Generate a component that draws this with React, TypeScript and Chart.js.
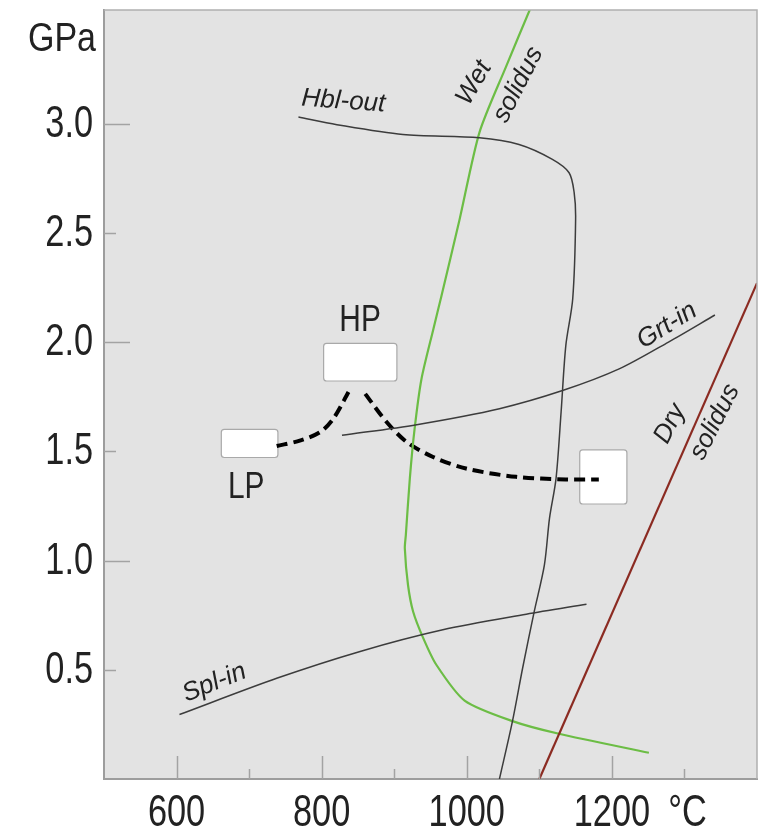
import React, { useEffect, useRef } from 'react';
import { Chart, registerables } from 'chart.js';

Chart.register(...registerables);

// ---------- data (T in °C, P in GPa) ----------
const wetSolidusT = [1088, 1054, 1017.5, 990, 965, 954, 937.5, 928, 921.5, 916, 914.6, 919, 926, 940, 958, 997, 1063, 1127, 1251];
const wetSolidusP = [3.53, 3.26, 2.96, 2.56, 2.21, 2.06, 1.83, 1.6, 1.375, 1.116, 1.056, 0.888, 0.767, 0.645, 0.523, 0.359, 0.265, 0.207, 0.12];

const hblOutT = [768, 821, 912, 1017.5, 1072, 1118, 1141, 1148, 1150, 1146, 1136.5, 1130, 1123, 1114, 1107, 1093, 1077, 1063, 1045];
const hblOutP = [3.03, 2.995, 2.95, 2.935, 2.904, 2.836, 2.775, 2.684, 2.562, 2.197, 1.984, 1.68, 1.375, 1.193, 0.98, 0.767, 0.508, 0.265, 0.0];

const grtInT = [828, 931, 1045, 1132, 1210, 1278, 1342];
const grtInP = [1.573, 1.622, 1.695, 1.778, 1.877, 2.0, 2.124];

const splInT = [604, 739, 853, 967, 1082, 1165];
const splInP = [0.295, 0.462, 0.584, 0.683, 0.754, 0.8];

const drySolidusT = [1100, 1400];
const drySolidusP = [0.0, 2.27];

const pathLpT = [738, 771, 798, 816, 837];
const pathLpP = [1.524, 1.55, 1.588, 1.649, 1.771];

const pathHpT = [860, 889.5, 917, 953.5, 999, 1068, 1136.5, 1182];
const pathHpP = [1.763, 1.634, 1.543, 1.474, 1.421, 1.383, 1.371, 1.371];

// sample boxes (P-T fields)
const boxTmin = [802, 661, 1155];
const boxTmax = [903, 739, 1220];
const boxPmin = [1.824, 1.474, 1.261];
const boxPmax = [1.996, 1.603, 1.509];

// axis labels
const xTickLabels: Record<number, string> = { 600: '600', 800: '800', 1000: '1000', 1200: '1200', 1300: '°C' };
const yTickLabels: Record<string, string> = { '0.5': '0.5', '1': '1.0', '1.5': '1.5', '2': '2.0', '2.5': '2.5', '3': '3.0' };
const yUnit = 'GPa';

// annotation texts
const annTexts = ['Hbl-out', 'Wet', 'solidus', 'Grt-in', 'Dry', 'solidus', 'Spl-in', 'HP', 'LP'];
const annT = [830, 1010, 1071, 1276, 1280, 1342, 652, 853, 696];
const annP = [3.102, 3.186, 3.178, 2.075, 1.626, 1.634, 0.44, 2.098, 1.33];

const FONT_SANS = "'Liberation Sans', Arial, sans-serif";
const NARROW = 0.8;

const annStyle = [
  { angle: 4, italic: true, size: 26 },
  { angle: -60, italic: true, size: 26 },
  { angle: -63, italic: true, size: 26 },
  { angle: -32, italic: true, size: 26 },
  { angle: -63, italic: true, size: 26 },
  { angle: -63, italic: true, size: 26 },
  { angle: -22, italic: true, size: 26 },
  { angle: 0, italic: false, size: 36 },
  { angle: 0, italic: false, size: 36 },
];

const mk = (T: number[], P: number[]) => T.map((t, i) => ({ x: t, y: P[i] }));

const ds = (T: number[], P: number[], color: string, width: number, tension: number, dash: number[] = []) => ({
  data: mk(T, P),
  showLine: true,
  borderColor: color,
  backgroundColor: color,
  borderWidth: width,
  pointRadius: 0,
  pointHoverRadius: 0,
  tension,
  borderDash: dash,
  borderCapStyle: 'butt' as const,
  fill: false,
});

const bgPlugin = {
  id: 'bg',
  beforeDraw(chart: any) {
    const { ctx, chartArea: a } = chart;
    ctx.save();
    ctx.fillStyle = '#e3e3e3';
    ctx.fillRect(a.left, a.top, a.right - a.left, a.bottom - a.top);
    ctx.restore();
  },
};

const boxesPlugin = {
  id: 'boxes',
  beforeDatasetsDraw(chart: any) {
    const { ctx, scales: { x, y } } = chart;
    ctx.save();
    for (let i = 0; i < boxTmin.length; i++) {
      const x0 = x.getPixelForValue(boxTmin[i]);
      const x1 = x.getPixelForValue(boxTmax[i]);
      const y0 = y.getPixelForValue(boxPmax[i]);
      const y1 = y.getPixelForValue(boxPmin[i]);
      ctx.beginPath();
      ctx.roundRect(x0 + 0.5, y0 + 0.5, x1 - x0, y1 - y0, 3);
      ctx.fillStyle = '#ffffff';
      ctx.fill();
      ctx.strokeStyle = '#a9a9a9';
      ctx.lineWidth = 1.2;
      ctx.stroke();
    }
    ctx.restore();
  },
};

const marksPlugin = {
  id: 'marks',
  afterDatasetsDraw(chart: any) {
    const { ctx, chartArea: a, scales: { x, y } } = chart;
    ctx.save();
    ctx.strokeStyle = '#a3a3a3';
    ctx.lineWidth = 1.5;
    x.ticks.forEach((t: any) => {
      const v = t.value;
      if (v <= 500 || v >= 1400) return;
      const len = v % 200 === 0 ? 23 : 10;
      const px = Math.round(x.getPixelForValue(v)) + 0.5;
      ctx.beginPath();
      ctx.moveTo(px, a.bottom);
      ctx.lineTo(px, a.bottom - len);
      ctx.stroke();
    });
    y.ticks.forEach((t: any) => {
      const v = t.value;
      if (v <= 0 || v > 3.4) return;
      const major = Math.abs(v - Math.round(v)) < 1e-6;
      const len = major ? 26 : 12;
      const py = Math.round(y.getPixelForValue(v)) + 0.5;
      ctx.beginPath();
      ctx.moveTo(a.left, py);
      ctx.lineTo(a.left + len, py);
      ctx.stroke();
    });
    ctx.strokeStyle = '#b0b0b0';
    ctx.lineWidth = 1.5;
    ctx.beginPath();
    ctx.moveTo(a.left, a.top);
    ctx.lineTo(a.right, a.top);
    ctx.lineTo(a.right, a.bottom);
    ctx.stroke();
    ctx.restore();
  },
};

// condensed tick labels, taken from the scales' own ticks
const tickLabelPlugin = {
  id: 'tickLabels',
  afterDraw(chart: any) {
    const { ctx, chartArea: a, scales: { x, y } } = chart;
    ctx.save();
    ctx.fillStyle = '#222222';
    ctx.font = `44px ${FONT_SANS}`;
    ctx.textBaseline = 'middle';
    x.ticks.forEach((t: any) => {
      const lab = xTickLabels[Math.round(t.value)];
      if (!lab) return;
      ctx.save();
      ctx.translate(x.getPixelForValue(t.value) + (lab === '°C' ? 3 : 0), a.bottom + 35);
      ctx.scale(0.78, 1);
      ctx.textAlign = 'center';
      ctx.fillText(lab, 0, 0);
      ctx.restore();
    });
    y.ticks.forEach((t: any) => {
      const lab = yTickLabels[String(Math.round(t.value * 10) / 10)];
      if (!lab || t.value > 3.4) return;
      ctx.save();
      ctx.translate(a.left - 11, y.getPixelForValue(t.value) + 1);
      ctx.scale(0.78, 1);
      ctx.textAlign = 'right';
      ctx.fillText(lab, 0, 0);
      ctx.restore();
    });
    ctx.save();
    ctx.font = `40px ${FONT_SANS}`;
    ctx.translate(a.left - 8, 40);
    ctx.scale(0.85, 1);
    ctx.textAlign = 'right';
    ctx.fillText(yUnit, 0, 0);
    ctx.restore();
    ctx.restore();
  },
};

const labelsPlugin = {
  id: 'labels',
  afterDatasetsDraw(chart: any) {
    const { ctx, scales: { x, y } } = chart;
    ctx.save();
    ctx.fillStyle = '#222222';
    ctx.textAlign = 'center';
    ctx.textBaseline = 'middle';
    for (let i = 0; i < annTexts.length; i++) {
      const st = annStyle[i];
      ctx.save();
      ctx.translate(x.getPixelForValue(annT[i]), y.getPixelForValue(annP[i]));
      ctx.rotate((st.angle * Math.PI) / 180);
      if (!st.italic) ctx.scale(0.83, 1);
      ctx.font = `${st.italic ? 'italic ' : ''}${st.size}px ${FONT_SANS}`;
      ctx.fillText(annTexts[i], 0, 0);
      ctx.restore();
    }
    ctx.restore();
  },
};

export default function App() {
  const ref = useRef<HTMLCanvasElement>(null);
  useEffect(() => {
    document.body.style.margin = '0';
    const chart = new Chart(ref.current as HTMLCanvasElement, {
      type: 'scatter',
      data: {
        datasets: [
          ds(splInT, splInP, '#3c3c3c', 1.5, 0.3),
          ds(grtInT, grtInP, '#3c3c3c', 1.5, 0.3),
          ds(hblOutT, hblOutP, '#3c3c3c', 1.5, 0.3),
          ds(drySolidusT, drySolidusP, '#8b2b22', 2.2, 0),
          ds(wetSolidusT, wetSolidusP, '#6cbd45', 2.2, 0.25),
          ds(pathLpT, pathLpP, '#000000', 4, 0.3, [11, 6]),
          ds(pathHpT, pathHpP, '#000000', 4, 0.3, [11, 6]),
        ] as any,
      },
      options: {
        animation: false,
        responsive: false,
        maintainAspectRatio: false,
        events: [],
        layout: { padding: { top: 10, right: 5, left: 0, bottom: 0 } },
        plugins: { legend: { display: false }, tooltip: { enabled: false } },
        scales: {
          x: {
            type: 'linear',
            min: 500,
            max: 1400,
            grid: { display: false, drawTicks: false },
            border: { display: true, color: '#9d9d9d', width: 2 },
            ticks: { display: false, stepSize: 100, autoSkip: false, maxRotation: 0 },
            afterFit: (s: any) => {
              s.height = 55;
              s.paddingLeft = 0;
              s.paddingRight = 0;
            },
          },
          y: {
            type: 'linear',
            min: 0,
            max: 3.52,
            grid: { display: false, drawTicks: false },
            border: { display: true, color: '#9d9d9d', width: 2 },
            ticks: { display: false, stepSize: 0.5, autoSkip: false },
            afterFit: (s: any) => {
              s.width = 104;
              s.paddingTop = 0;
              s.paddingBottom = 0;
            },
          },
        },
      } as any,
      plugins: [bgPlugin, boxesPlugin, marksPlugin, labelsPlugin, tickLabelPlugin],
    });
    return () => chart.destroy();
  }, []);
  return <canvas ref={ref} width={762} height={834} style={{ display: 'block' }} />;
}
